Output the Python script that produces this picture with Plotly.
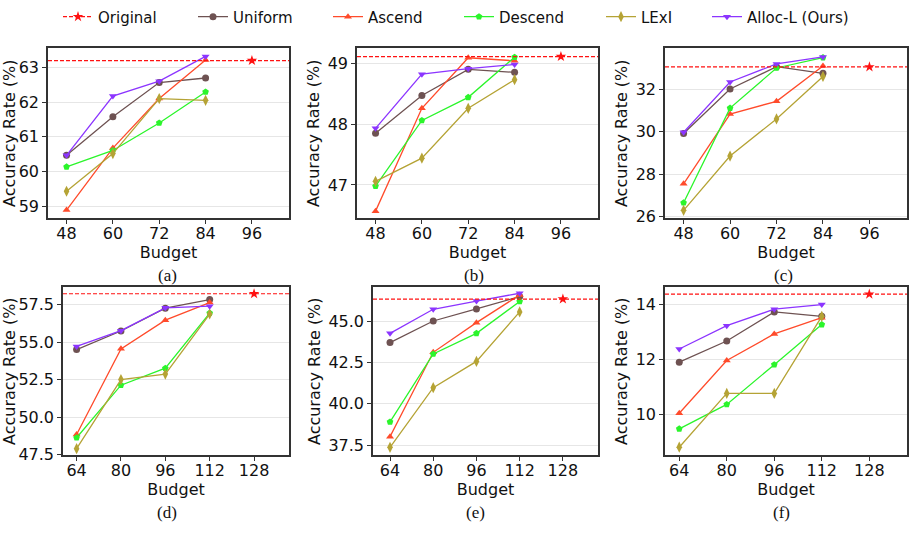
import plotly.graph_objects as go

# ---------------- data ----------------
budgets_top = [48, 60, 72, 84]
budget_orig_top = 96
budgets_bot = [64, 80, 96, 112]
budget_orig_bot = 128

methods = ["Uniform", "Ascend", "Descend", "LExI", "Alloc-L (Ours)"]

original_vals = [63.19, 49.11, 33.05, 58.22, 46.35, 14.38]

uniform_vals = [
    [60.47, 61.58, 62.56, 62.69],
    [47.85, 48.47, 48.90, 48.85],
    [29.91, 32.01, 33.06, 32.75],
    [54.50, 55.74, 57.26, 57.83],
    [43.71, 45.02, 45.75, 46.50],
    [11.90, 12.67, 13.73, 13.57],
]
ascend_vals = [
    [58.90, 60.68, 62.10, 63.21],
    [46.57, 48.26, 49.09, 49.04],
    [27.54, 30.83, 31.43, 33.09],
    [48.85, 54.55, 56.46, 57.63],
    [38.01, 43.12, 44.92, 46.60],
    [10.04, 11.96, 12.93, 13.52],
]
descend_vals = [
    [60.14, 60.61, 61.40, 62.29],
    [46.98, 48.06, 48.44, 49.10],
    [26.65, 31.11, 33.00, 33.49],
    [48.63, 52.13, 53.26, 56.93],
    [38.90, 43.02, 44.27, 46.20],
    [9.47, 10.36, 11.81, 13.27],
]
lexi_vals = [
    [59.44, 60.52, 62.10, 62.05],
    [47.06, 47.44, 48.26, 48.73],
    [26.29, 28.85, 30.60, 32.60],
    [47.90, 52.50, 52.87, 56.87],
    [37.36, 40.98, 42.57, 45.57],
    [8.80, 10.76, 10.76, 13.57],
]
allocl_vals = [
    [60.47, 62.17, 62.60, 63.31],
    [47.93, 48.82, 48.91, 48.98],
    [29.97, 32.34, 33.19, 33.52],
    [54.71, 55.76, 57.28, 57.39],
    [44.27, 45.73, 46.23, 46.70],
    [12.38, 13.23, 13.83, 14.00],
]

y_ticks = [
    [59, 60, 61, 62, 63],
    [47, 48, 49],
    [26, 28, 30, 32],
    [47.5, 50.0, 52.5, 55.0, 57.5],
    [37.5, 40.0, 42.5, 45.0],
    [10, 12, 14],
]
y_ticktext = [
    ["59", "60", "61", "62", "63"],
    ["47", "48", "49"],
    ["26", "28", "30", "32"],
    ["47.5", "50.0", "52.5", "55.0", "57.5"],
    ["37.5", "40.0", "42.5", "45.0"],
    ["10", "12", "14"],
]
captions = ["(a)", "(b)", "(c)", "(d)", "(e)", "(f)"]

# ---------------- styling ----------------
W, H = 914, 533
colors = {
    "Original": "#ff1111",
    "Uniform": "#6e5252",
    "Ascend": "#ff4b2b",
    "Descend": "#2bf52b",
    "LExI": "#b5a335",
    "Alloc-L (Ours)": "#8c35ff",
}
symbols = {
    "Uniform": "circle",
    "Ascend": "triangle-up",
    "Descend": "pentagon",
    "LExI": "diamond-tall",
    "Alloc-L (Ours)": "triangle-down",
}
series = {
    "Uniform": uniform_vals,
    "Ascend": ascend_vals,
    "Descend": descend_vals,
    "LExI": lexi_vals,
    "Alloc-L (Ours)": allocl_vals,
}
# legend text start positions (px)
legend_names = ["Original"] + methods
legend_text_x = [102, 237, 372, 503, 645, 751]

# axes boxes in pixels (left, right, top, bottom)
boxes = [
    (48, 289, 47, 221),
    (357, 598, 47, 221),
    (665, 907, 47, 221),
    (63, 289, 291, 463),
    (373, 598, 291, 463),
    (665, 907, 291, 463),
]
y_ranges = [
    [58.66, 63.55],
    [46.45, 49.25],
    [25.91, 33.94],
    [47.45, 58.67],
    [36.87, 47.08],
    [8.50, 14.64],
]
x_ranges = [
    [43.2, 105.6],
    [43.2, 105.6],
    [43.2, 105.7],
    [59.1, 140.6],
    [57.7, 141.0],
    [59.2, 140.7],
]
caption_pos = [(167, 279), (474, 279), (783, 279), (167, 521), (475, 521), (781, 521)]

fig = go.Figure()
layout = dict(
    width=W, height=H,
    margin=dict(l=0, r=0, t=0, b=0),
    paper_bgcolor="white", plot_bgcolor="white",
    font=dict(family="DejaVu Sans", size=16, color="#111111"),
    showlegend=True,
)
legend_ids = {}
for k, nm in enumerate(legend_names):
    lid = "legend" if k == 0 else "legend" + str(k + 1)
    legend_ids[nm] = lid
    layout[lid] = dict(orientation="h", x=(legend_text_x[k] - 44) / W, y=1.003,
                       xanchor="left", yanchor="top",
                       font=dict(size=15, family="DejaVu Sans", color="#111111"),
                       bgcolor="rgba(0,0,0,0)", itemwidth=30)

annotations = []
shapes = []
dash_pat = "4px,2px"

for i in range(6):
    ax_id = "" if i == 0 else str(i + 1)
    xa, ya = "x" + ax_id, "y" + ax_id
    l, r, t, b = boxes[i]
    top = i < 3
    budgets = budgets_top if top else budgets_bot
    borig = budget_orig_top if top else budget_orig_bot

    layout["xaxis" + ax_id] = dict(
        domain=[l / W, r / W], anchor=ya, range=x_ranges[i],
        tickvals=budgets + [borig], ticktext=[str(v) for v in budgets + [borig]],
        showline=True, mirror=True, linecolor="#333333", linewidth=1.5,
        ticks="outside", ticklen=4, tickcolor="#333333", showgrid=False, zeroline=False,
        tickfont=dict(size=16), ticklabelstandoff=-4,
        title=dict(text="Budget", font=dict(size=16), standoff=0),
    )
    layout["yaxis" + ax_id] = dict(
        domain=[1 - b / H, 1 - t / H], anchor=xa, range=y_ranges[i],
        tickvals=y_ticks[i], ticktext=y_ticktext[i],
        showline=True, mirror=True, linecolor="#333333", linewidth=1.5,
        ticks="outside", ticklen=4, tickcolor="#333333",
        showgrid=True, gridcolor="#e6e6e6", gridwidth=1, zeroline=False,
        tickfont=dict(size=16), title=dict(text="Accuracy Rate (%)", font=dict(size=16), standoff=4),
    )

    # original reference line across the axes
    shapes.append(dict(type="line", xref=xa + " domain", yref=ya, x0=0, x1=1,
                       y0=original_vals[i], y1=original_vals[i],
                       line=dict(color=colors["Original"], width=1.2, dash=dash_pat)))
    fig.add_trace(go.Scatter(
        x=[borig], y=[original_vals[i]], xaxis=xa, yaxis=ya, name="Original",
        mode="lines+markers", legendgroup="Original", showlegend=(i == 0),
        legend=legend_ids["Original"],
        line=dict(color=colors["Original"], width=1.2, dash=dash_pat),
        marker=dict(symbol="star", size=8, color=colors["Original"]),
        cliponaxis=False,
    ))
    for m in methods:
        fig.add_trace(go.Scatter(
            x=budgets, y=series[m][i], xaxis=xa, yaxis=ya, name=m,
            mode="lines+markers", legendgroup=m, showlegend=(i == 0),
            legend=legend_ids[m],
            line=dict(color=colors[m], width=1.3),
            marker=dict(symbol=symbols[m], size=7 if m != "LExI" else 8, color=colors[m]),
            cliponaxis=False,
        ))

    cx, cy = caption_pos[i]
    annotations.append(dict(text=captions[i], x=cx / W, y=1 - cy / H, xref="paper", yref="paper",
                            showarrow=False, xanchor="center", yanchor="middle",
                            font=dict(family="Liberation Serif", size=17, color="#111111")))

layout["annotations"] = annotations
layout["shapes"] = shapes
fig.update_layout(**layout)
fig.write_html("out.html")
